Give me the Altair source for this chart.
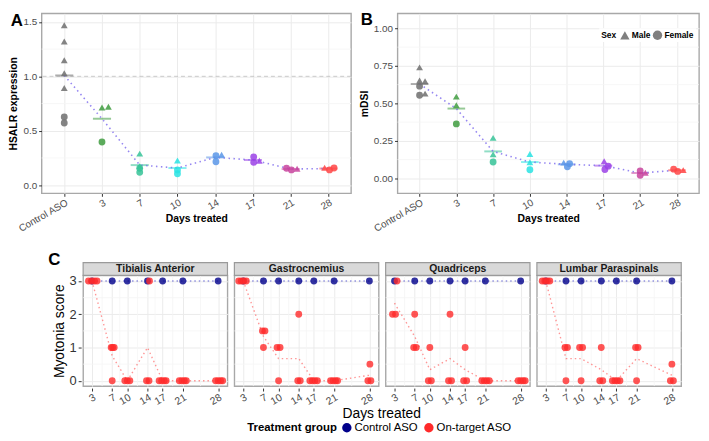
import altair as alt
import pandas as pd

FONT = "Liberation Sans"

# ---------------- Panels A and B ----------------
categories = ["Control ASO", "3", "7", "10", "14", "17", "21", "28"]
category_colors = ["#6e6e6e", "#3f9c3f", "#36c398", "#29e3e3", "#5b96e8", "#9b42e6", "#c8449e", "#ff4545"]

hsalr_group = (["Control ASO"] * 7 + ["3"] * 3 + ["7"] * 4 + ["10"] * 3 + ["14"] * 3
               + ["17"] * 3 + ["21"] * 3 + ["28"] * 3)
hsalr_sex = (["Male"] * 5 + ["Female"] * 2 + ["Male", "Male", "Female"]
             + ["Male", "Male", "Female", "Female"] + ["Male", "Female", "Female"]
             + ["Female", "Female", "Male"] + ["Female", "Female", "Male"]
             + ["Female", "Female", "Male"] + ["Male", "Female", "Female"])
hsalr_value = [1.47, 1.32, 1.147, 1.028, 0.893, 0.627, 0.571,
               0.714, 0.72, 0.397,
               0.29, 0.175, 0.155, 0.118,
               0.227, 0.14, 0.105,
               0.27, 0.215, 0.28,
               0.26, 0.21, 0.224,
               0.155, 0.14, 0.15,
               0.16, 0.14, 0.158]
hsalr_jitter = ([0] * 7 + [0, 0.17, 0] + [0] * 4 + [0] * 3 + [0.02, 0.02, 0.17]
                + [0.02, 0.02, 0.17] + [-0.11, 0.02, 0.17] + [-0.1, 0.03, 0.15])

mdsi_group = (["Control ASO"] * 6 + ["3"] * 3 + ["7"] * 3 + ["10"] * 3 + ["14"] * 3
              + ["17"] * 3 + ["21"] * 3 + ["28"] * 3)
mdsi_sex = (["Male"] * 4 + ["Female"] * 2 + ["Male", "Male", "Female"] * 3
            + ["Male", "Female", "Female"] * 2 + ["Female", "Female", "Male"] * 2)
mdsi_value = [0.74, 0.652, 0.648, 0.565, 0.615, 0.554,
              0.545, 0.488, 0.363,
              0.27, 0.16, 0.109,
              0.162, 0.107, 0.057,
              0.105, 0.098, 0.077,
              0.114, 0.081, 0.059,
              0.05, 0.02, 0.037,
              0.061, 0.046, 0.055]
mdsi_jitter = [0, 0, 0.15, 0.15, 0, 0, 0, 0, 0, 0, 0, 0, 0, 0, 0,
               -0.08, 0.08, 0.02, 0.02, 0.13, 0.04, 0, 0, 0.14, -0.09, 0.02, 0.17]

# ---------------- Panel C ----------------
muscles = ["Tibialis Anterior", "Gastrocnemius", "Quadriceps", "Lumbar Paraspinals"]
treatment_groups = ["Control ASO", "On-target ASO"]
treatment_colors = ["#00008b", "#ff2a2a"]
day_ticks = [3, 7, 10, 14, 17, 21, 28]
day_minor = [5, 8.5, 12, 15.5, 19, 24.5]
score_ticks = [0, 1, 2, 3]
score_minor = [0.5, 1.5, 2.5]

control_days = [3, 7, 10, 14, 17, 21, 28]
control_scores = [3, 3, 3, 3, 3, 3, 3]

ta_day = [3, 3, 3, 3, 7, 7, 7, 7, 10, 10, 10, 14, 14, 14, 17, 17, 17, 17, 21, 21, 21, 21, 28, 28, 28, 28]
ta_x = [2.3, 2.9, 3.5, 4.0, 6.8, 7.1, 7.4, 7.0, 9.5, 10.0, 10.5, 14.4, 13.8, 14.3,
        16.3, 16.8, 17.3, 17.7, 20.3, 20.8, 21.3, 21.7, 27.5, 28.0, 28.5, 28.9]
ta_score = [3, 3, 3, 3, 1, 1, 1, 0, 0, 0, 0, 3, 0, 0, 0, 0, 0, 0, 0, 0, 0, 0, 0, 0, 0, 0]

ga_day = [3, 3, 3, 3, 7, 7, 7, 10, 10, 10, 14, 14, 14, 17, 17, 17, 17, 21, 21, 21, 21, 28, 28, 28]
ga_x = [2.1, 2.6, 3.1, 3.6, 6.8, 7.3, 7.0, 9.7, 10.3, 10.0, 14.0, 13.8, 14.3,
        16.2, 16.7, 17.2, 17.7, 20.3, 20.8, 21.3, 21.7, 28.1, 27.7, 28.3]
ga_score = [3, 3, 3, 3, 1.5, 1.5, 1, 1, 1, 0, 2, 0, 0, 0, 0, 0, 0, 0, 0, 0, 0, 0.5, 0, 0]

qu_day = [3, 3, 3, 7, 7, 7, 10, 10, 10, 14, 14, 14, 17, 17, 17, 21, 21, 21, 21, 28, 28, 28, 28]
qu_x = [3.5, 2.6, 3.2, 7.0, 6.8, 7.3, 10.0, 9.7, 10.3, 14.0, 13.7, 14.3, 17.0, 16.7, 17.3,
        20.3, 20.8, 21.3, 21.8, 27.5, 28.0, 28.5, 28.9]
qu_score = [3, 2, 2, 2, 1, 1, 1, 0, 0, 2, 0, 0, 1, 0, 0, 0, 0, 0, 0, 0, 0, 0, 0]

lp_day = [3, 3, 3, 3, 7, 7, 7, 10, 10, 10, 14, 14, 14, 17, 17, 17, 17, 21, 21, 21, 28, 28, 28]
lp_x = [2.3, 2.8, 3.3, 3.8, 6.8, 7.3, 7.0, 9.7, 10.3, 10.0, 14.0, 13.7, 14.3,
        16.2, 16.7, 17.2, 17.7, 20.8, 21.3, 21.0, 28.0, 27.7, 28.3]
lp_score = [3, 3, 3, 3, 1, 1, 0, 1, 1, 0, 1, 0, 0, 0, 0, 0, 0, 1, 1, 0, 0.5, 0, 0]

muscle_data = [(ta_day, ta_x, ta_score), (ga_day, ga_x, ga_score),
               (qu_day, qu_x, qu_score), (lp_day, lp_x, lp_score)]

# ---------------- helpers ----------------
LABEL_COLOR = "#4d4d4d"
label_expr = "[" + ",".join("'%s'" % c for c in categories) + "][round(datum.value)]"


def expr_df(groups, sexes, values, jitters):
    df = pd.DataFrame({"group": groups, "sex": sexes, "value": values, "jitter": jitters})
    df["idx"] = df["group"].map({c: i for i, c in enumerate(categories)})
    df["xpos"] = df["idx"] + df["jitter"]
    return df


def expr_panel(df, ytitle, ydom, yticks, yminor, yfmt, w, h, letter, ldx, ldy, legend, refline):
    xs = alt.Scale(domain=[-0.6, 7.6], nice=False, zero=False)
    ys = alt.Scale(domain=ydom, nice=False, zero=False)
    fill_scale = alt.Scale(domain=categories, range=category_colors)
    xaxis = alt.Axis(values=list(range(8)), labelExpr=label_expr, labelAngle=330,
                     labelAlign="right", labelBaseline="top", labelFontSize=10,
                     labelColor=LABEL_COLOR, title="Days treated", titleFontSize=10.5,
                     titleFontWeight="bold", titleY=25, titleBaseline="middle",
                     tickSize=3, tickColor="#333", labelOverlap=False,
                     domain=False, gridColor="#ebebeb", labelPadding=1)
    yaxis = alt.Axis(values=yticks, format=yfmt, labelFontSize=10, labelColor=LABEL_COLOR,
                     title=ytitle, titleFontSize=10.5, titleFontWeight="bold", titlePadding=4,
                     tickSize=3, tickColor="#333", domain=False, gridColor="#ebebeb")

    def X(f):
        return alt.X(f, scale=xs, axis=xaxis)

    def Y(f):
        return alt.Y(f, scale=ys, axis=yaxis)

    base = alt.Chart(df)
    layers = []
    layers.append(alt.Chart(pd.DataFrame({"v": yminor})).mark_rule(color="#f5f5f5", strokeWidth=0.8)
                  .encode(y=Y("v:Q")))
    if refline is not None:
        layers.append(alt.Chart(pd.DataFrame({"v": [refline]}))
                      .mark_rule(color="#bdbdbd", strokeDash=[4, 3], strokeWidth=0.8)
                      .encode(y=Y("v:Q")))
    layers.append(base.transform_aggregate(mean="mean(value)", groupby=["idx", "group"])
                  .transform_calculate(x1="datum.idx - 0.24", x2="datum.idx + 0.24")
                  .mark_rule(strokeWidth=2, opacity=0.55)
                  .encode(x=X("x1:Q"), x2="x2:Q", y=Y("mean:Q"),
                          stroke=alt.Stroke("group:N", scale=fill_scale, legend=None)))
    layers.append(base.transform_aggregate(mean="mean(value)", groupby=["idx"])
                  .mark_line(color="#7b68ee", strokeDash=[1.5, 3.5], strokeWidth=1.6, opacity=0.8)
                  .encode(x=X("idx:Q"), y=Y("mean:Q")))
    layers.append(base.mark_point(filled=True, size=48, opacity=0.85, strokeWidth=0)
                  .encode(x=X("xpos:Q"), y=Y("value:Q"),
                          fill=alt.Fill("group:N", scale=fill_scale, legend=None),
                          shape=alt.Shape("sex:N", scale=alt.Scale(domain=["Male", "Female"],
                                                                    range=["triangle-up", "circle"]),
                                          legend=legend)))
    layers.append(alt.Chart(pd.DataFrame({"t": [letter]}))
                  .mark_text(fontSize=17, fontWeight="bold", align="center", baseline="middle")
                  .encode(text="t:N", x=alt.value(ldx), y=alt.value(ldy)))
    return alt.layer(*layers).properties(width=w, height=h)


sex_legend = alt.Legend(orient="none", legendX=204, legendY=15, direction="horizontal",
                        titleOrient="left", title="Sex",
                        fillColor="white", padding=2, titleFontSize=8.5,
                        titleFontWeight="bold", labelFontSize=8.5, labelFontWeight="bold",
                        symbolFillColor="#7f7f7f", symbolStrokeWidth=0, symbolSize=90,
                        symbolOpacity=1, columnPadding=2, labelOffset=2, titlePadding=3)

panel_a = expr_panel(expr_df(hsalr_group, hsalr_sex, hsalr_value, hsalr_jitter), "HSALR expression",
                     [-0.075, 1.578], [0, 0.5, 1.0, 1.5], [0.25, 0.75, 1.25], ".1f", 313, 182,
                     "A", -25, 8, None, 1.0)
panel_b = expr_panel(expr_df(mdsi_group, mdsi_sex, mdsi_value, mdsi_jitter), "mDSI",
                     [-0.1, 1.1], [0, 0.25, 0.5, 0.75, 1.0], [0.125, 0.375, 0.625, 0.875], ".2f",
                     305, 182, "B", -31, 7, sex_legend, None)

top_row = alt.hconcat(panel_a, panel_b, spacing=5).resolve_legend(shape="independent")

# ---------------- Panel C (faceted) ----------------
PW, PH, SH = 146, 112, 13
rows = []
for i, m in enumerate(muscles):
    days, xs_, scores = muscle_data[i]
    for d, s in zip(control_days, control_scores):
        rows.append({"muscle": m, "kind": "pt", "group": "Control ASO", "day": d, "x": d, "score": s})
    for d, x, s in zip(days, xs_, scores):
        rows.append({"muscle": m, "kind": "pt", "group": "On-target ASO", "day": d, "x": x, "score": s})
    for v in day_minor:
        rows.append({"muscle": m, "kind": "mx", "v": v})
    for v in score_minor:
        rows.append({"muscle": m, "kind": "my", "v": v})
    rows.append({"muscle": m, "kind": "strip"})
c_df = pd.DataFrame(rows)

xs_c = alt.Scale(domain=[1.24, 29.85], nice=False, zero=False)
ys_c = alt.Scale(domain=[-0.16, 3.17], nice=False, zero=False)
color_scale = alt.Scale(domain=treatment_groups, range=treatment_colors)

treat_legend = alt.Legend(orient="none", legendX=208, legendY=413, direction="horizontal",
                          titleOrient="left", title="Treatment group", titleFontSize=11.5,
                          titleFontWeight="bold", labelFontSize=11.5, symbolSize=90,
                          symbolType="circle", symbolOpacity=1, symbolStrokeWidth=0,
                          columnPadding=4, labelOffset=2, titlePadding=4, titleColor="black",
                          labelColor="black")

xaxis_c = alt.Axis(values=day_ticks, labelAngle=330, labelAlign="right", labelBaseline="top",
                   labelFontSize=10.5, labelColor=LABEL_COLOR, tickSize=3, tickColor="#333",
                   domain=False, gridColor="#ebebeb", labelPadding=1, labelOverlap=False,
                   title=None)
yaxis_c = alt.Axis(values=score_ticks, labelFontSize=13, labelColor="#333",
                   title="Myotonia score", titleFontSize=14, titleFontWeight="normal",
                   titlePadding=3, tickSize=3, tickColor="#333", domain=False, gridColor="#ebebeb")


def XC(f):
    return alt.X(f, scale=xs_c, axis=xaxis_c)


def YC(f):
    return alt.Y(f, scale=ys_c, axis=yaxis_c)


cbase = alt.Chart()
pts = cbase.transform_filter("datum.kind == 'pt'")


def mean_line(group, color):
    return (pts.transform_filter("datum.group == '%s'" % group)
            .transform_aggregate(mean="mean(score)", groupby=["day"])
            .mark_line(color=color, strokeDash=[1.5, 3], strokeWidth=1.4, opacity=0.55)
            .encode(x=XC("day:Q"), y=YC("mean:Q")))


c_layers = [
    cbase.transform_filter("datum.kind == 'mx'").mark_rule(color="#f5f5f5", strokeWidth=0.8)
    .encode(x=XC("v:Q")),
    cbase.transform_filter("datum.kind == 'my'").mark_rule(color="#f5f5f5", strokeWidth=0.8)
    .encode(y=YC("v:Q")),
    cbase.transform_filter("datum.kind == 'strip'")
    .mark_rect(fill="#d9d9d9", stroke="#9a9a9a", strokeWidth=1.2)
    .encode(x=alt.value(0), x2=alt.value(PW), y=alt.value(-SH), y2=alt.value(0)),
    cbase.transform_filter("datum.kind == 'strip'")
    .mark_text(fontSize=10.5, fontWeight="bold", color="#1a1a1a", baseline="middle")
    .encode(text="muscle:N", x=alt.value(PW / 2), y=alt.value(-SH / 2 + 0.5)),
    mean_line(treatment_groups[0], "#3c3cc8"),
    mean_line(treatment_groups[1], "#ff4040"),
    pts.mark_circle(size=48, opacity=0.8)
    .encode(x=XC("x:Q"), y=YC("score:Q"),
            color=alt.Color("group:N", scale=color_scale, legend=treat_legend)),
]
facet_c = (alt.layer(*c_layers, data=c_df).properties(width=PW, height=PH)
           .facet(column=alt.Column("muscle:N", sort=muscles, title="Days treated",
                                    header=alt.Header(labels=False, titleOrient="bottom",
                                                      titleFontSize=14, titleFontWeight="normal",
                                                      titleColor="black", titleFont=FONT,
                                                      titlePadding=-10)),
                  spacing=3)
           .properties(title=alt.TitleParams("C", anchor="start", frame="bounds", fontSize=17,
                                             fontWeight="bold", dx=-4, offset=-8, font=FONT)))

# empty layout spacer that indents the bottom row
spacer = (alt.Chart(pd.DataFrame({"s": [0]})).mark_point(opacity=0)
          .encode(x=alt.value(0), y=alt.value(0))
          .properties(width=6, height=10, view=alt.ViewBackground(strokeOpacity=0)))

bottom_row = alt.hconcat(spacer, facet_c, spacing=0)

chart = (alt.vconcat(top_row, bottom_row, spacing=16)
         .properties(padding=0)
         .configure(font=FONT)
         .configure_view(stroke="#a8a8a8", strokeWidth=1.4)
         .configure_axis(labelFont=FONT, titleFont=FONT)
         .configure_legend(labelFont=FONT, titleFont=FONT))

chart.save("out.html", embed_options={"renderer": "svg", "actions": False})
